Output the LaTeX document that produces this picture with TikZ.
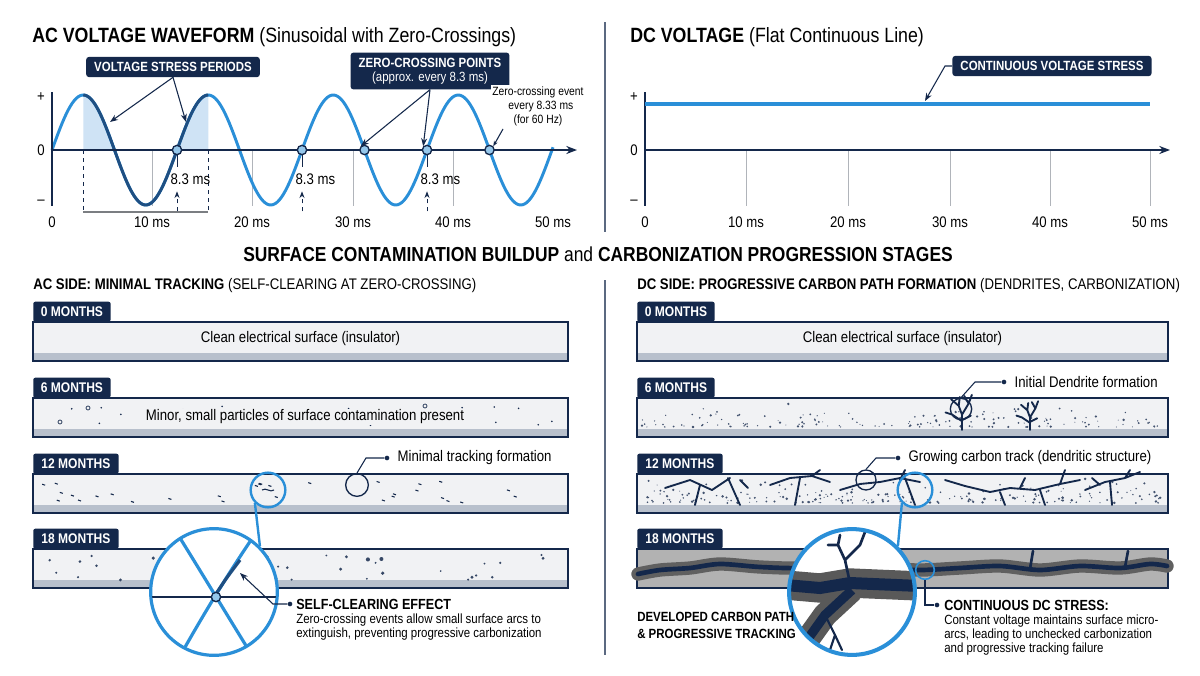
\documentclass[tikz,border=0pt]{standalone}
\usepackage{fontspec}
\setmainfont{Liberation Sans}[FakeStretch=0.86]
\usetikzlibrary{arrows.meta}
\definecolor{navy}{HTML}{14284B}
\definecolor{wblue}{HTML}{2A8FD8}
\definecolor{wdark}{HTML}{1F4F82}
\definecolor{lshade}{HTML}{CFE3F5}
\definecolor{strip}{HTML}{F1F2F4}
\definecolor{band}{HTML}{B8C0CC}
\definecolor{grid}{HTML}{B0B4BA}
\tikzset{
 tab/.style={fill=navy,text=white,font=\fontsize{10.5}{12}\selectfont\bfseries,inner sep=0pt,minimum height=15pt,anchor=south west,rounded corners=1.5pt},
 callbox/.style={fill=navy,text=white,font=\fontsize{10}{11.5}\selectfont\bfseries,rounded corners=2pt,inner xsep=6pt,inner ysep=4pt,align=center},
 lbl/.style={font=\fontsize{11.5}{13}\selectfont},
 small/.style={font=\fontsize{10}{10.5}\selectfont,align=left},
 arr/.style={-{Stealth[length=6pt]},navy,line width=0.8pt},
 zc/.style={circle,draw=navy,fill=wblue!50,line width=1pt,inner sep=0pt,minimum size=7pt},
 dot/.style={circle,fill=navy,inner sep=0pt,minimum size=3.5pt},
 mag/.style={draw=wblue,line width=1.8pt},
 crack/.style={navy,line width=1.4pt,line cap=round,line join=round},
}
\newcommand\stripbox[3]{% y-top, x-left, x-right
 \fill[strip] (#2,#1) rectangle (#3,#1+39);
 \fill[band] (#2,#1+31) rectangle (#3,#1+39);
 \draw[navy,line width=0.9pt] (#2,#1) rectangle (#3,#1+39);}
\newcommand\dendr[3]{% x base, y base, scale
 \begin{scope}[shift={(#1,#2)},scale=#3]
 \draw[crack] (0,0)--(0,-14)--(-3,-22)--(-2,-30) (0,-14)--(6,-24)--(9,-32) (-3,-22)--(-10,-28) (6,-24)--(2,-31) (0,-8)--(-9,-14)--(-15,-16) (0,-9)--(8,-13);
 \end{scope}}
\newcommand\wv[1]{150-55*sin(2.88*(#1-52))}
\begin{document}
\begin{tikzpicture}[x=0.75pt,y=-0.75pt]
\useasboundingbox (0,0) rectangle (1200,675);
\fill[white] (0,0) rectangle (1200,675);
% titles
\node[anchor=base west,inner sep=0pt,font=\fontsize{15.5}{17}\selectfont] (t1) at (32,42) {\textbf{AC VOLTAGE WAVEFORM} (Sinusoidal with Zero-Crossings)};
\node[anchor=base west,inner sep=0pt,font=\fontsize{15.5}{17}\selectfont] (t2) at (630,42) {\textbf{DC VOLTAGE} (Flat Continuous Line)};
\draw[navy!70,line width=1pt] (605,22)--(605,232) (605,280)--(605,655);
% ---------- AC plot
\foreach \x in {152,252,353,453} \draw[grid,line width=0.5pt] (\x,150)--(\x,206);
\fill[lshade] (83.25,150) -- plot[domain=83.25:114.5,samples=30] (\x,{\wv{\x}}) -- cycle;
\fill[lshade] (177,150) -- plot[domain=177:208.25,samples=30] (\x,{\wv{\x}}) -- (208.25,150) -- cycle;
\draw[wblue,line width=2.2pt] plot[domain=52:553,samples=250] (\x,{\wv{\x}});
\draw[wdark,line width=2.2pt] plot[domain=83.25:208.25,samples=100] (\x,{\wv{\x}});
\draw[navy,line width=1.6pt,-{Stealth[length=8pt]}] (52,150)--(577,150);
\draw[navy,line width=1.6pt] (52,92)--(52,206);
\node[lbl] at (41,97) {+}; \node[lbl] at (41,150) {0}; \node[lbl] at (41,202) {–};
\draw[navy,dashed,line width=0.7pt] (83.25,150)--(83.25,212) (208.25,150)--(208.25,212);
\draw[grid!70!black,line width=1pt] (83.25,212)--(208.25,212);
\foreach \x/\t in {52/0,152/10 ms,252/20 ms,353/30 ms,453/40 ms,553/50 ms} \node[lbl] at (\x,222) {\t};
\foreach \x/\n in {177/a,302/b,364.5/c,427/d,489.5/e} \node[zc] (z\n) at (\x,150) {};
\foreach \n in {a,b,d}{
 \draw[navy,line width=0.7pt] (z\n.south)--++(0,12);
 \node[lbl] (m\n) at ([xshift=10pt,yshift=-22pt]z\n) {8.3 ms};
 \coordinate (q\n) at ([yshift=-46pt]z\n);
 \draw[navy,dashed,line width=0.7pt,-{Stealth[length=5pt]}] (q\n)--++(0,-20);}
\node[callbox] (vsp) at (173,67) {VOLTAGE STRESS PERIODS};
\coordinate (v1) at (110,122); \coordinate (v2) at (186,122);
\draw[arr] (vsp.south)--(v1); \draw[arr] (vsp.south)--(v2);
\node[callbox] (zcp) at (430,71) {ZERO-CROSSING POINTS\\[-1pt]\mdseries(approx. every 8.3 ms)};
\draw[arr] (zcp.south)--(zc.north west); \draw[arr] (zcp.south)--(zd.north west);
\node[align=center,font=\fontsize{9}{10.5}\selectfont,fill=white,inner sep=1pt] (zce) at (538,106) {Zero-crossing event\\ \ \ every 8.33 ms\\ (for 60 Hz)};
\draw[arr,-{Stealth[length=4pt]}] (503,129)--(ze.north east);
% ---------- DC plot
\foreach \x in {746,848,950,1050,1150} \draw[grid,line width=0.5pt] (\x,150)--(\x,206);
\draw[navy,line width=1.6pt,-{Stealth[length=8pt]}] (645,150)--(1170,150);
\draw[navy,line width=1.6pt] (645,92)--(645,206);
\node[lbl] at (634,97) {+}; \node[lbl] at (634,150) {0}; \node[lbl] at (634,202) {–};
\draw[wblue,line width=2.6pt] (645,104)--(1150,104);
\foreach \x/\t in {645/0,746/10 ms,848/20 ms,950/30 ms,1050/40 ms,1150/50 ms} \node[lbl] at (\x,222) {\t};
\node[callbox] (cvs) at (1052,66) {CONTINUOUS VOLTAGE STRESS};
\coordinate (cv) at (925,101);
\draw[arr] (cvs.west)--(945,66)--(cv);
% ---------- middle title
\node[font=\fontsize{15.2}{17}\selectfont] (mt) at (598,254) {\textbf{SURFACE CONTAMINATION BUILDUP} and \textbf{CARBONIZATION PROGRESSION STAGES}};
\node[anchor=base west,inner sep=0pt,font=\fontsize{11.5}{13}\selectfont] (acs) at (33,289) {\textbf{AC SIDE: MINIMAL TRACKING} (SELF-CLEARING AT ZERO-CROSSING)};
\node[anchor=base west,inner sep=0pt,font=\fontsize{11.5}{13}\selectfont] (dcs) at (637,289) {\textbf{DC SIDE: PROGRESSIVE CARBON PATH FORMATION} (DENDRITES, CARBONIZATION)};
% ---------- strips
\foreach \xl/\xr/\s in {33/568/L,637/1168/R}{
 \stripbox{322}{\xl}{\xr}
 \stripbox{398}{\xl}{\xr}
 \stripbox{474}{\xl}{\xr}
 \stripbox{549}{\xl}{\xr}
 \node[tab,minimum width=58pt] (m0\s) at (\xl,322) {0 MONTHS};
 \node[tab,minimum width=58pt] (m6\s) at (\xl,398) {6 MONTHS};
 \node[tab,minimum width=64pt] (m12\s) at (\xl,474) {12 MONTHS};
 \node[tab,minimum width=64pt] (m18\s) at (\xl,549) {18 MONTHS};
 \node[lbl] at ({(\xl+\xr)/2},339) {Clean electrical surface (insulator)};
}
% darker right 18 months
\fill[gray!60] (637,549) rectangle (1168,588);
\draw[navy,line width=0.9pt] (637,549) rectangle (1168,588);
% AC dots
\pgfmathsetseed{7}
\foreach \i in {1,...,22}{\pgfmathsetmacro\px{40+rnd*520}\pgfmathsetmacro\py{404+rnd*22}\fill[navy] (\px,\py) circle (0.9);}
\foreach \p in {(88,408),(425,406),(60,422)} \draw[navy,line width=0.5pt] \p circle (2);
\node[lbl,fill=strip,inner sep=1pt] at (305,417) {Minor, small particles of surface contamination present};
\foreach \i in {1,...,30}{\pgfmathsetmacro\px{40+rnd*520}\pgfmathsetmacro\py{480+rnd*22}\draw[navy,line width=0.8pt] (\px,\py)--++(3,1);}
\draw[navy,line width=0.8pt] (262,490) to[out=30,in=150] (268,490) to[out=-30,in=210] (274,490);
\foreach \i in {1,...,40}{\pgfmathsetmacro\px{40+rnd*520}\pgfmathsetmacro\py{555+rnd*25}\fill[navy!85] (\px,\py) circle ({0.9+rnd*1.2});}
% AC minimal tracking callout
\node[lbl,anchor=west] (mtf) at (393,458) {Minimal tracking formation};
\node[dot] (d1) at (387,458) {};
\node[circle,draw=navy,line width=1pt,minimum size=17pt,inner sep=0pt] (c1) at (357,485) {};
\draw[navy,line width=0.8pt] (d1)--(366,458)--(c1.north);
% AC magnifier
\node[circle,mag,minimum size=26pt,inner sep=0pt] (g1) at (268,490) {};
\node[circle,mag,fill=white,minimum size=95pt,inner sep=0pt,line width=2.4pt] (G1) at (214,592) {};
\draw[mag] (g1.south west)--(G1.north east);
\begin{scope}
\clip (214,592) circle (62);
\draw[navy,line width=1.2pt] (150,597)--(280,597);
\draw[wblue,line width=2.4pt] (175,530) .. controls (200,570) and (230,620) .. (258,665);
\draw[wblue,line width=2.4pt] (258,530) .. controls (230,570) and (200,620) .. (175,665);
\draw[wdark,line width=2.4pt] (214,597) .. controls (225,580) .. (240,560);
\end{scope}
\node[zc] (zG) at (216,597) {};
\node[dot] (d2) at (290,604) {};
\node[anchor=base west,inner sep=0pt,font=\fontsize{11}{12}\selectfont\bfseries] (sce) at (296,609) {SELF-CLEARING EFFECT};
\node[small,anchor=north west,inner sep=0pt] (scd) at (296,614) {Zero-crossing events allow small surface arcs to\\extinguish, preventing progressive carbonization};
\coordinate (sa) at (240,573);
\draw[arr] (d2)--(273,604)--(sa);
% DC 6 months
\pgfmathsetseed{11}
\foreach \i in {1,...,160}{\pgfmathsetmacro\px{642+rnd*520}\pgfmathsetmacro\py{427-rnd*rnd*24}\fill[navy!80] (\px,\py) circle ({0.5+rnd*0.8});}
\dendr{962}{430}{1.1}
\dendr{1030}{430}{0.9}
\node[lbl,anchor=west] (idf) at (1010,382) {Initial Dendrite formation};
\node[dot] (d3) at (1004,382) {};
\node[circle,draw=navy,line width=1pt,minimum size=16pt,inner sep=0pt] (c3) at (961,409) {};
\draw[navy,line width=0.8pt] (d3)--(975,382)--(c3.north);
% DC 12 months
\foreach \i in {1,...,220}{\pgfmathsetmacro\px{642+rnd*520}\pgfmathsetmacro\py{503-rnd*rnd*27}\fill[navy!80] (\px,\py) circle ({0.5+rnd*0.9});}
\draw[crack] (665,488)--(690,480)--(712,490)--(730,478) (700,485)--(695,505) (728,478)--(740,505) (740,480)--(748,488);
\draw[crack] (770,485)--(790,478)--(812,476)--(830,482) (800,478)--(795,505) (812,476)--(820,470);
\draw[crack] (840,490)--(860,484)--(880,482)--(900,478)--(920,482) (905,478)--(915,505) (900,480)--(905,470);
\draw[crack] (945,480)--(965,486)--(990,492)--(1010,488)--(1035,490)--(1060,484)--(1080,480) (1000,492)--(1005,505) (1040,490)--(1045,505) (1060,484)--(1065,470) (1020,488)--(1025,478);
\draw[crack] (1085,490)--(1105,482)--(1125,478)--(1140,472) (1110,482)--(1112,505) (1125,478)--(1130,470) (1100,485)--(1092,478);
\node[lbl,anchor=west] (gct) at (904,458) {Growing carbon track (dendritic structure)};
\node[dot] (d4) at (898,458) {};
\node[circle,draw=navy,line width=1pt,minimum size=15pt,inner sep=0pt] (c4) at (866,480) {};
\draw[navy,line width=0.8pt] (d4)--(876,458)--(c4.north);
% DC 18 months carbon path
\draw[gray!75!black,line width=10pt,line cap=round] plot[smooth] coordinates {(638,574)(660,570)(690,568)(720,564)(760,567)(800,568)(840,564)(880,568)(920,570)(960,568)(1000,566)(1040,570)(1080,566)(1120,568)(1150,564)(1167,566)};
\draw[navy,line width=3.5pt,line cap=round] plot[smooth] coordinates {(638,574)(660,570)(690,568)(720,564)(760,567)(800,568)(840,564)(880,568)(920,570)(960,568)(1000,566)(1040,570)(1080,566)(1120,568)(1150,564)(1167,566)};
\draw[crack,line width=2pt] (1030,569)--(1033,551) (1125,567)--(1128,551);
\node[circle,draw=wblue,line width=1.2pt,minimum size=14pt,inner sep=0pt] (c5) at (925,570) {};
% DC magnifier
\node[circle,mag,minimum size=26pt,inner sep=0pt] (g2) at (915,490) {};
\node[circle,mag,fill=white,minimum size=95pt,inner sep=0pt,line width=2.4pt] (G2) at (852,592) {};
\draw[mag] (g2.south west)--(G2.north east);
\begin{scope}
\clip (852,592) circle (62);
\draw[gray!70!black,line width=22pt] (785,585)--(820,588)--(850,583)--(920,586);
\draw[gray!70!black,line width=18pt] (852,590)--(825,615)--(800,650);
\draw[navy,line width=9pt] (785,585)--(820,588)--(850,583)--(920,586);
\draw[navy,line width=7pt] (852,590)--(825,615)--(800,650);
\draw[crack,line width=2pt] (850,583)--(845,560)--(838,545)--(840,535) (845,560)--(860,545)--(865,532) (838,545)--(828,545);
\draw[crack,line width=1.6pt] (825,615)--(835,635)--(842,650) (835,635)--(830,650);
\end{scope}
\draw[mag,line width=2.4pt] (852,592) circle (62.5);
\node[anchor=north west,inner sep=0pt,font=\fontsize{10}{12.5}\selectfont\bfseries,align=left] (dcp) at (637,612) {DEVELOPED CARBON PATH\\\& PROGRESSIVE TRACKING};
\node[dot] (d6) at (937,605) {};
\draw[navy,line width=0.8pt] (c5.south)--(925,605)--(d6);
\node[anchor=base west,inner sep=0pt,font=\fontsize{11}{12}\selectfont\bfseries] (cds) at (944,610) {CONTINUOUS DC STRESS:};
\node[small,anchor=north west,inner sep=0pt] (cdd) at (944,615) {Constant voltage maintains surface micro-\\arcs, leading to unchecked carbonization\\and progressive tracking failure};
\end{tikzpicture}
\end{document}
